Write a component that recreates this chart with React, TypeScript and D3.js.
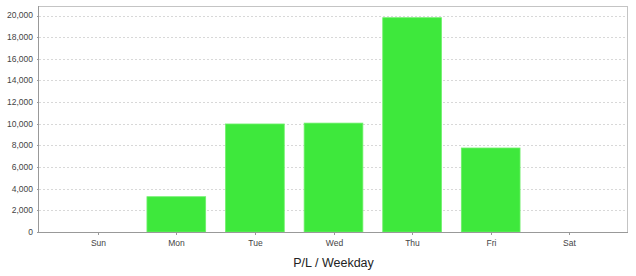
import React from "react";
import * as d3 from "d3";

const categories = ["Sun", "Mon", "Tue", "Wed", "Thu", "Fri", "Sat"];
const values = [0, 3260, 9980, 10060, 19800, 7760, 0];
const yTicks = [0, 2000, 4000, 6000, 8000, 10000, 12000, 14000, 16000, 18000, 20000];
const axisTitle = "P/L / Weekday";

export default function App() {
  const W = 636, H = 276;
  const left = 39, right = 628, top = 6, bottom = 232;
  const y = d3.scaleLinear().domain([0, 20880]).range([bottom, top]);
  const x = d3.scaleBand<string>().domain(categories).range([left, right]).paddingInner(0.253).paddingOuter(0.3735);
  const fmt = d3.format(",");
  const font = "Liberation Sans, Arial, sans-serif";
  return (
    <svg width={W} height={H} style={{ position: "absolute", left: 0, top: 0 }} fontFamily={font}>
      <rect x={0} y={0} width={W} height={H} fill="#fff" />
      {yTicks.map((t) => (
        <g key={t}>
          {t > 0 && (
            <line x1={left} x2={right} y1={Math.round(y(t)) + 0.5} y2={Math.round(y(t)) + 0.5} stroke="#d8d8d8" strokeWidth={1} strokeDasharray="2,2" />
          )}
          <line x1={left - 2} x2={left} y1={Math.round(y(t)) + 0.5} y2={Math.round(y(t)) + 0.5} stroke="#999" />
          <text x={left - 6} y={y(t)} dy="0.35em" textAnchor="end" fontSize={8.5} fill="#444">{fmt(t)}</text>
        </g>
      ))}
      {categories.map((c, i) => (
        values[i] > 0 ? (
          <rect key={c} x={x(c)!} y={y(values[i])} width={x.bandwidth()} height={bottom - y(values[i])} fill="#3ee83c" stroke="#6ef06a" strokeWidth={0.8} />
        ) : null
      ))}
      <line x1={left} x2={right} y1={top + 0.5} y2={top + 0.5} stroke="#c4c4c4" />
      <line x1={right - 0.5} x2={right - 0.5} y1={top} y2={bottom} stroke="#c4c4c4" />
      <line x1={left - 0.5} x2={left - 0.5} y1={top} y2={bottom + 1} stroke="#999" />
      <line x1={left} x2={right} y1={bottom + 0.5} y2={bottom + 0.5} stroke="#999" />
      {categories.map((c) => {
        const cx = Math.round(x(c)! + x.bandwidth() / 2) + 0.5;
        return (
          <g key={c}>
            <line x1={cx} x2={cx} y1={bottom} y2={bottom + 3} stroke="#999" />
            <text x={cx} y={bottom + 14} textAnchor="middle" fontSize={8.5} fill="#444">{c}</text>
          </g>
        );
      })}
      <text x={(left + right) / 2} y={267} textAnchor="middle" fontSize={12.5} fill="#222">{axisTitle}</text>
    </svg>
  );
}
